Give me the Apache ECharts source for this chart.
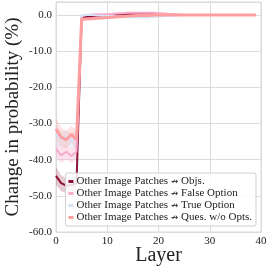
<!DOCTYPE html>
<html><head><meta charset="utf-8">
<script src="https://cdn.jsdelivr.net/npm/echarts@6/dist/echarts.min.js"></script>
<style>html,body{margin:0;padding:0;background:#fff}#c{width:266px;height:266px}</style>
</head><body><div id="c"></div>
<script>
const layers = Array.from({length: 40}, (_, i) => i);
const seriesNames = [
  'Other Image Patches \u219B Objs.',
  'Other Image Patches \u219B False Option',
  'Other Image Patches \u219B True Option',
  'Other Image Patches \u219B Ques. w/o Opts.'
];
const objs = [-44.5,-46.5,-47.2,-47.0,-46.5,-0.6,-0.5,-0.4,-0.3,-0.2,-0.1,0,0.1,0.2,0.3,0.3,0.3,0.3,0.2,0.2,0.1,0.1,0,0,0,0,0,0,0,0,0,0,0,0,0,0,0,0,0,0];
const falseOpt = [-37.0,-38.8,-37.8,-39.0,-37.8,-0.3,0,0.1,0.2,0.2,0.2,0.3,0.4,0.5,0.6,0.6,0.6,0.6,0.6,0.6,0.5,0.4,0.3,0.2,0.1,0,0,0,0,0,0,0,0,0,0,0,0,0,0,0];
const trueOpt = [-33.0,-34.5,-33.8,-35.0,-34.0,-0.1,0,0,-0.1,-0.2,-0.3,-0.3,-0.4,-0.5,-0.6,-0.6,-0.6,-0.6,-0.6,-0.5,-0.4,-0.3,-0.2,-0.1,0,0,0,0,0,0,0,0,0,0,0,0,0,0,0,0];
const quesNoOpts = [-31.5,-33.8,-34.5,-33.0,-34.5,-1.2,-1.1,-1.0,-0.9,-0.8,-0.7,-0.6,-0.5,-0.4,-0.3,-0.2,-0.1,-0.1,-0.1,0,0,0,0,0,0,0,0,0,0,0,0,0,0,0,0,0,0,0,0,0];
// confidence band half-widths
const objsBand = [2.5,2.2,2.0,2.0,2.2,0.4,0.3,0.3,0.3,0.3,0.3,0.3,0.3,0.3,0.3,0.3,0.3,0.3,0.3,0.3,0.3,0.3,0.3,0.3,0.3,0.3,0.3,0.3,0.3,0.3,0.3,0.3,0.3,0.3,0.3,0.3,0.3,0.3,0.3,0.3];
const falseBand = [2.5,2.2,2.0,2.0,2.2,0.4,0.3,0.3,0.3,0.3,0.3,0.3,0.3,0.3,0.3,0.3,0.3,0.3,0.3,0.3,0.3,0.3,0.3,0.3,0.3,0.3,0.3,0.3,0.3,0.3,0.3,0.3,0.3,0.3,0.3,0.3,0.3,0.3,0.3,0.3];
const trueBand = [2.5,2.2,2.0,2.0,2.2,0.4,0.3,0.3,0.3,0.3,0.3,0.3,0.3,0.3,0.3,0.3,0.3,0.3,0.3,0.3,0.3,0.3,0.3,0.3,0.3,0.3,0.3,0.3,0.3,0.3,0.3,0.3,0.3,0.3,0.3,0.3,0.3,0.3,0.3,0.3];
const quesBand = [3.0,2.6,2.4,2.4,2.6,0.4,0.3,0.3,0.3,0.3,0.3,0.3,0.3,0.3,0.3,0.3,0.3,0.3,0.3,0.3,0.3,0.3,0.3,0.3,0.3,0.3,0.3,0.3,0.3,0.3,0.3,0.3,0.3,0.3,0.3,0.3,0.3,0.3,0.3,0.3];
const yTicks = [-60,-50,-40,-30,-20,-10,0];
const xTicks = [0,10,20,30,40];

const colors = ['#8c1038', '#f8aacb', '#d8e2f6', '#ff9e9e'];
const bandColors = ['rgba(140,16,56,0.22)', 'rgba(248,170,203,0.35)', 'rgba(216,226,246,0.5)', 'rgba(255,158,158,0.3)'];
const means = [objs, falseOpt, trueOpt, quesNoOpts];
const bands = [objsBand, falseBand, trueBand, quesBand];
const widths = [2, 2, 2, 3];
const serif = "'Liberation Serif', 'DejaVu Serif', serif";

const series = [];
means.forEach((m, k) => {
  series.push({
    type: 'custom', silent: true, z: 1,
    data: layers.map(i => [i, m[i] - bands[k][i], m[i] + bands[k][i]]),
    encode: {x: 0, y: [1, 2]},
    renderItem: (params, api) => {
      if (params.dataIndex !== 0) return null;
      const up = [], lo = [];
      layers.forEach(i => {
        up.push(api.coord([i, m[i] + bands[k][i]]));
        lo.push(api.coord([i, m[i] - bands[k][i]]));
      });
      return {
        type: 'polygon', shape: {points: up.concat(lo.reverse())},
        style: {fill: bandColors[k]},
        clipPath: {type: 'rect', shape: {x: params.coordSys.x, y: params.coordSys.y,
          width: params.coordSys.width, height: params.coordSys.height}}
      };
    }
  });
});
means.forEach((m, k) => {
  series.push({
    name: seriesNames[k], type: 'line', symbol: 'none',
    lineStyle: {color: colors[k], width: widths[k]}, itemStyle: {color: colors[k]},
    data: layers.map(i => [i, m[i]]), z: 2 + k
  });
});

const chart = echarts.init(document.getElementById('c'), null, {renderer: 'canvas'});
chart.setOption({
  animation: false,
  backgroundColor: '#fff',
  grid: {left: 56, right: 5, top: 2, bottom: 34, show: true, borderColor: '#d9d9d9', borderWidth: 1,
    containLabel: false, outerBoundsMode: 'none'},
  legend: {
    data: seriesNames, orient: 'vertical', right: 10, bottom: 40,
    icon: 'rect', itemWidth: 5, itemHeight: 3, itemGap: 1,
    backgroundColor: 'rgba(255,255,255,0.85)', borderColor: '#d0d0d0', borderWidth: 1, borderRadius: 2,
    padding: [3, 4, 3, 3],
    formatter: n => n.replace('\u219B', '{arr|\u219B}'),
    textStyle: {fontFamily: serif, fontSize: 11, color: '#222', padding: [0,0,0,-2],
      rich: {arr: {fontFamily: "'DejaVu Sans'", fontSize: 9, color: '#222'}}}
  },
  xAxis: {
    type: 'value', min: 0, max: 40, interval: 10,
    name: 'Layer', nameLocation: 'middle', nameGap: 14, nameMoveOverlap: false,
    nameTextStyle: {fontFamily: serif, fontSize: 20, color: '#222'},
    axisLine: {show: false}, axisTick: {show: false},
    axisLabel: {fontFamily: serif, fontSize: 11, color: '#222', margin: 4,
      formatter: v => xTicks.includes(v) ? String(v) : ''},
    splitLine: {show: true, lineStyle: {color: '#dcdcdc', width: 1}}
  },
  yAxis: {
    type: 'value', min: -60, max: 3.6, interval: 10,
    name: 'Change in probability (%)', nameLocation: 'middle', nameGap: 33, nameMoveOverlap: false,
    nameTextStyle: {fontFamily: serif, fontSize: 19, color: '#222'},
    axisLine: {show: false}, axisTick: {show: false},
    axisLabel: {fontFamily: serif, fontSize: 11, color: '#222', margin: 4,
      formatter: v => yTicks.includes(v) ? v.toFixed(1) : ''},
    splitLine: {show: true, lineStyle: {color: '#dcdcdc', width: 1}}
  },
  series: series
});
</script></body></html>
